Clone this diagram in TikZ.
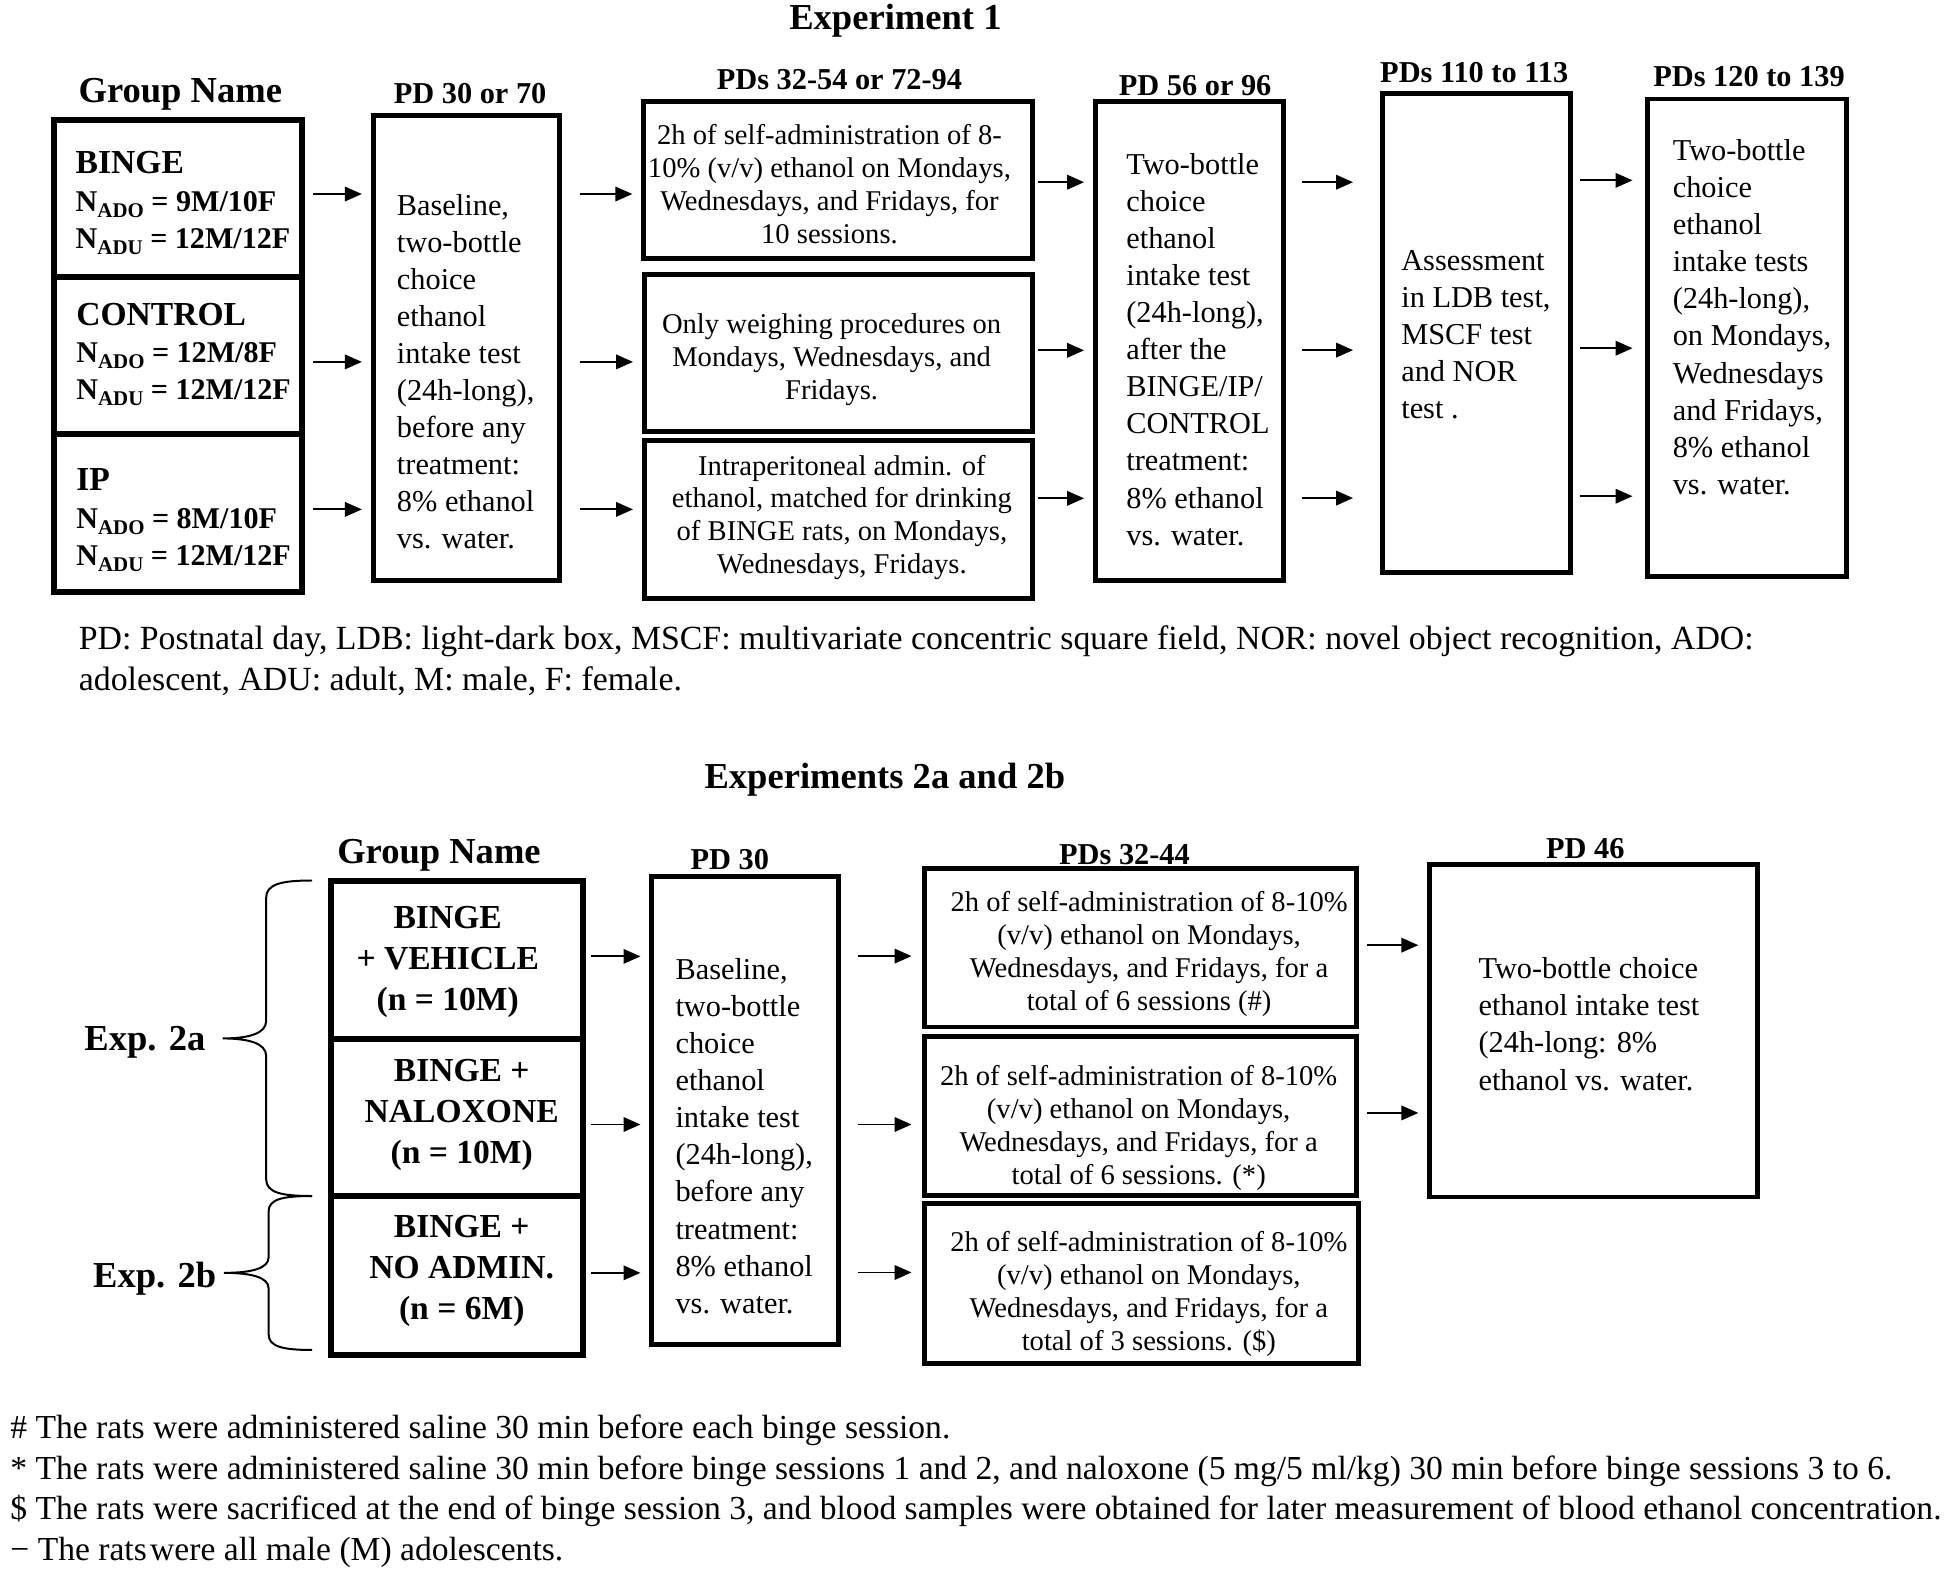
\documentclass[tikz,border=0pt]{standalone}
\usepackage{fontspec}
\setmainfont{Liberation Serif}
\usetikzlibrary{arrows.meta,calc,fit}

\newcommand\fbody{\fontsize{12.2}{14.9}\selectfont}
\newcommand\fsmall{\fontsize{11.5}{13.2}\selectfont}
\newcommand\fhead{\fontsize{12.2}{14}\selectfont\bfseries}
\newcommand\ftitle{\fontsize{14.7}{17}\selectfont\bfseries}
\newcommand\fgrp{\fontsize{12.1}{15}\selectfont\bfseries}
\newcommand\fgrpb{\fontsize{13.5}{16.4}\selectfont\bfseries}
\newcommand\fnote{\fontsize{13.6}{16.6}\selectfont}
\newcommand\fnoteb{\fontsize{13.5}{16.3}\selectfont}
\newcommand\sbt[1]{\raisebox{-0.45ex}{\fontsize{8.4}{10}\selectfont #1}}
\newcommand\gbig[1]{{\fontsize{13.5}{15}\selectfont #1}}

\begin{document}
\begin{tikzpicture}[x=0.5pt,y=-0.5pt,
  box/.style={draw, line width=2pt, inner sep=0pt},
  gbox/.style={draw, line width=2.4pt, inner sep=0pt},
  txt/.style={inner sep=0pt, align=left},
  ctxt/.style={inner sep=0pt, align=center},
  arr/.style={line width=0.8pt, -{Triangle[length=6.8pt,width=5.8pt]}},
  brace/.style={line width=0.8pt}]
\useasboundingbox (0,0) rectangle (1568,1264);

% ---------------- Experiment 1 ----------------
\node[font=\ftitle] (t1) at (720,16.5) {Experiment 1};
\node[font=\ftitle] (gn1) at (145,76) {Group Name};
\node[font=\fhead] (h1) at (378,75.5) {PD 30 or 70};
\node[font=\fhead] (h2) at (675,64) {PDs 32-54 or 72-94};
\node[font=\fhead] (h3) at (961,68.5) {PD 56 or 96};
\node[font=\fhead] (h4) at (1185.4,58) {PDs 110 to 113};
\node[font=\fhead] (h5) at (1406.4,61.5) {PDs 120 to 139};

\node[gbox, fit={(43.3,96.7)(243,222.7)}] (g1) {};
\node[gbox, fit={(43.3,222.7)(243,348.7)}] (g2) {};
\node[gbox, fit={(43.3,348.7)(243,476)}] (g3) {};
\node[txt, font=\fgrp, anchor=west] (g1t) at (60.5,163.5)
  {\gbig{BINGE}\\N\sbt{ADO} = 9M/10F\\N\sbt{ADU} = 12M/12F};
\node[txt, font=\fgrp, anchor=west] (g2t) at (61,285)
  {\gbig{CONTROL}\\N\sbt{ADO} = 12M/8F\\N\sbt{ADU} = 12M/12F};
\node[txt, font=\fgrp, anchor=west] (g3t) at (61,418.5)
  {\gbig{IP}\\N\sbt{ADO} = 8M/10F\\N\sbt{ADU} = 12M/12F};

\node[box, fit={(300.5,92.6)(450,466.4)}] (p30) {};
\node[txt, font=\fbody, anchor=west] (p30t) at (318.8,299)
  {Baseline,\\two-bottle\\choice\\ethanol\\intake test\\(24h-long),\\before any\\treatment:\\8\% ethanol\\vs. water.};

\node[box, fit={(517.5,82)(830.5,208)}] (b1) {};
\node[box, fit={(518,220.5)(830.5,347)}] (b2) {};
\node[box, fit={(518,354.5)(830.5,481)}] (b3) {};
\node[ctxt, font=\fsmall] (b1t) at (667,148)
  {2h of self-administration of 8-\\10\% (v/v) ethanol on Mondays,\\Wednesdays, and Fridays, for\\10 sessions.};
\node[ctxt, font=\fsmall] (b2t) at (668.7,289)
  {Only weighing procedures on\\Mondays, Wednesdays, and\\Fridays.};
\node[ctxt, font=\fsmall] (b3t) at (677,416)
  {Intraperitoneal admin. of\\ethanol, matched for drinking\\of BINGE rats, on Mondays,\\Wednesdays, Fridays.};

\node[box, fit={(880.7,82)(1032,467)}] (p56) {};
\node[txt, font=\fbody, anchor=west] (p56t) at (905.3,281)
  {Two-bottle\\choice\\ethanol\\intake test\\(24h-long),\\after the\\BINGE/IP/\\CONTROL\\treatment:\\8\% ethanol\\vs. water.};

\node[box, fit={(1112,75.3)(1262.5,460)}] (p110) {};
\node[txt, font=\fbody, anchor=west] (p110t) at (1126.4,269)
  {Assessment\\in LDB test,\\MSCF test\\and NOR\\test .};

\node[box, fit={(1324.7,79.6)(1484.8,463.4)}] (p120) {};
\node[txt, font=\fbody, anchor=west] (p120t) at (1344.7,255)
  {Two-bottle\\choice\\ethanol\\intake tests\\(24h-long),\\on Mondays,\\Wednesdays\\and Fridays,\\8\% ethanol\\vs. water.};

% arrows experiment 1
\draw[arr] ($(g1.east|-0,156)+(6,0)$) -- ($(p30.west|-0,156)+(-7.5,0)$);
\draw[arr] ($(g2.east|-0,291)+(6,0)$) -- ($(p30.west|-0,291)+(-7.5,0)$);
\draw[arr] ($(g3.east|-0,409.6)+(6,0)$) -- ($(p30.west|-0,409.6)+(-7.5,0)$);

\draw[arr] ($(p30.east|-0,156)+(14,0)$) -- ($(b1.west|-0,156)+(-7,0)$);
\draw[arr] ($(p30.east|-0,291)+(14,0)$) -- ($(b2.west|-0,291)+(-7,0)$);
\draw[arr] ($(p30.east|-0,409.6)+(14,0)$) -- ($(b3.west|-0,409.6)+(-7,0)$);

\draw[arr] ($(b1.east|-0,146.5)+(2,0)$) -- ($(p56.west|-0,146.5)+(-7,0)$);
\draw[arr] ($(b2.east|-0,281.7)+(2,0)$) -- ($(p56.west|-0,281.7)+(-7,0)$);
\draw[arr] ($(b3.east|-0,400.7)+(2,0)$) -- ($(p56.west|-0,400.7)+(-7,0)$);

\draw[arr] ($(p56.east|-0,146.5)+(13,0)$) -- ($(p110.west|-0,146.5)+(-22,0)$);
\draw[arr] ($(p56.east|-0,281.5)+(13,0)$) -- ($(p110.west|-0,281.5)+(-22,0)$);
\draw[arr] ($(p56.east|-0,400.5)+(13,0)$) -- ($(p110.west|-0,400.5)+(-22,0)$);

\draw[arr] ($(p110.east|-0,145)+(6,0)$) -- ($(p120.west|-0,145)+(-10,0)$);
\draw[arr] ($(p110.east|-0,280)+(6,0)$) -- ($(p120.west|-0,280)+(-10,0)$);
\draw[arr] ($(p110.east|-0,399)+(6,0)$) -- ($(p120.west|-0,399)+(-10,0)$);

\node[txt, font=\fnote, anchor=west] (n1) at (63,531.5)
  {PD: Postnatal day, LDB: light-dark box, MSCF: multivariate concentric square field, NOR: novel object recognition, ADO:\\adolescent, ADU: adult, M: male, F: female.};

% ---------------- Experiments 2a and 2b ----------------
\node[font=\ftitle] (t2) at (711.5,627) {Experiments 2a and 2b};
\node[font=\ftitle] (gn2) at (353,687.5) {Group Name};
\node[font=\fhead] (k1) at (586.8,691) {PD 30};
\node[font=\fhead] (k2) at (904.2,687) {PDs 32-44};
\node[font=\fhead] (k3) at (1274.8,682.5) {PD 46};

\node[gbox, fit={(266.3,708.5)(468.5,835.2)}] (e1) {};
\node[gbox, fit={(266.3,835.2)(468.5,961.7)}] (e2) {};
\node[gbox, fit={(266.3,961.7)(468.5,1089.4)}] (e3) {};
\node[ctxt, font=\fgrpb] (e1t) at (360,773.5) {BINGE\\+ VEHICLE\\(n = 10M)};
\node[ctxt, font=\fgrpb] (e2t) at (371.3,896.5) {BINGE +\\NALOXONE\\(n = 10M)};
\node[ctxt, font=\fgrpb] (e3t) at (371.3,1022) {BINGE +\\NO ADMIN.\\(n = 6M)};

% braces
\draw[brace] (251,708) .. controls (226,708) and (214,711) .. (214,722)
  -- (214,821) .. controls (214,831) and (200,835) .. (179,835)
  .. controls (200,835) and (214,839) .. (214,849)
  -- (214,948) .. controls (214,959) and (226,961.7) .. (251,961.7);
\draw[brace] (251,961.7) .. controls (228,961.7) and (216,964) .. (216,974)
  -- (216,1011) .. controls (216,1020) and (202,1023.5) .. (180,1023.5)
  .. controls (202,1023.5) and (216,1027) .. (216,1036)
  -- (216,1073) .. controls (216,1083) and (228,1085.5) .. (251,1085.5);
\node[font=\ftitle] (x2a) at (116.5,838) {Exp. 2a};
\node[font=\ftitle] (x2b) at (124.4,1028) {Exp. 2b};

\node[box, fit={(524,704.5)(674,1081)}] (q30) {};
\node[txt, font=\fbody, anchor=west] (q30t) at (542.8,913.5)
  {Baseline,\\two-bottle\\choice\\ethanol\\intake test\\(24h-long),\\before any\\treatment:\\8\% ethanol\\vs. water.};

\node[box, fit={(743,698.3)(1090.4,825.8)}] (c1) {};
\node[box, fit={(743,833.4)(1090.4,961.2)}] (c2) {};
\node[box, fit={(743,967.4)(1092.4,1096.6)}] (c3) {};
\node[ctxt, font=\fsmall] (c1t) at (924,767)
  {2h of self-administration of 8-10\%\\(v/v) ethanol on Mondays,\\Wednesdays, and Fridays, for a\\total of 6 sessions (\#)};
\node[ctxt, font=\fsmall] (c2t) at (915.6,907)
  {2h of self-administration of 8-10\%\\(v/v) ethanol on Mondays,\\Wednesdays, and Fridays, for a\\total of 6 sessions. (*)};
\node[ctxt, font=\fsmall] (c3t) at (923.8,1040.5)
  {2h of self-administration of 8-10\%\\(v/v) ethanol on Mondays,\\Wednesdays, and Fridays, for a\\total of 3 sessions. (\$)};

\node[box, fit={(1149.5,695.5)(1413.5,962.5)}] (p46) {};
\node[txt, font=\fbody, anchor=west] (p46t) at (1188.5,823.5)
  {Two-bottle choice\\ethanol intake test\\(24h-long: 8\%\\ethanol vs. water.};

% arrows experiment 2
\draw[arr] ($(e1.east|-0,769)+(4,0)$) -- ($(q30.west|-0,769)+(-7,0)$);
\draw[arr] ($(e2.east|-0,904.2)+(4,0)$) -- ($(q30.west|-0,904.2)+(-7,0)$);
\draw[arr] ($(e3.east|-0,1023.5)+(4,0)$) -- ($(q30.west|-0,1023.5)+(-7,0)$);

\draw[arr] ($(q30.east|-0,768.8)+(14,0)$) -- ($(c1.west|-0,768.8)+(-8,0)$);
\draw[arr] ($(q30.east|-0,904.2)+(14,0)$) -- ($(c2.west|-0,904.2)+(-8,0)$);
\draw[arr] ($(q30.east|-0,1023.2)+(14,0)$) -- ($(c3.west|-0,1023.2)+(-8,0)$);

\draw[arr] ($(c1.east|-0,760)+(7,0)$) -- ($(p46.west|-0,760)+(-7,0)$);
\draw[arr] ($(c2.east|-0,894.9)+(7,0)$) -- ($(p46.west|-0,894.9)+(-7,0)$);

\node[txt, font=\fnoteb, anchor=west] (n2) at (8,1199)
  {\# The rats were administered saline 30 min before each binge session.\\
   {*} The rats were administered saline 30 min before binge sessions 1 and 2, and naloxone (5 mg/5 ml/kg) 30 min before binge sessions 3 to 6.\\
   \$ The rats were sacrificed at the end of binge session 3, and blood samples were obtained for later measurement of blood ethanol concentration.\\
   − The rats\hspace{0.1em}were all male (M) adolescents.};
\end{tikzpicture}
\end{document}
